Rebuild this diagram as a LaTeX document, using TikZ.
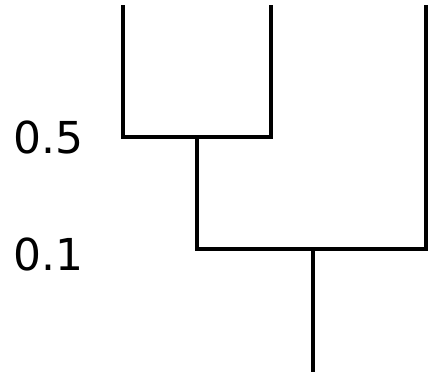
\documentclass[tikz,border=0pt]{standalone}
\usepackage{fontspec}
\setmainfont{DejaVu Sans}
\begin{document}
\begin{tikzpicture}[x=1pt,y=-1pt,
  link/.style={line width=4pt,line cap=butt,line join=miter},
  lbl/.style={font=\fontsize{44}{48}\selectfont,inner sep=0pt,anchor=base}]
\useasboundingbox (0,0) rectangle (429,372);
\coordinate (la) at (123,5);
\coordinate (lb) at (271,5);
\coordinate (lc) at (426,5);
\coordinate (m1) at (197,137);
\coordinate (m2) at (313,249);
\coordinate (root) at (313,372);
\draw[link] (la) |- (m1) -| (lb);
\draw[link] (m1) |- (m2) -| (lc);
\draw[link] (m2) -- (root);
\node[lbl] (t1) at (48.5,153) {0.5};
\node[lbl] (t2) at (48.5,270) {0.1};
\end{tikzpicture}
\end{document}
